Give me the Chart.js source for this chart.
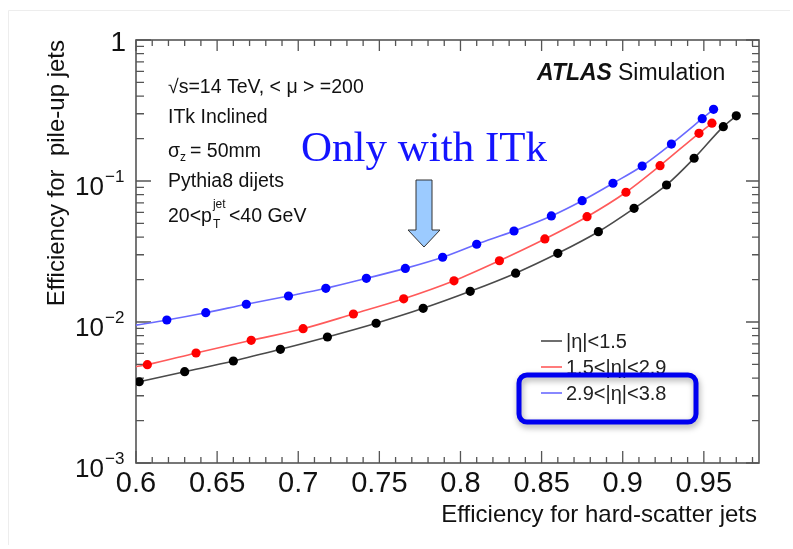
<!DOCTYPE html>
<html>
<head>
<meta charset="utf-8">
<script src="https://cdn.jsdelivr.net/npm/chart.js@4/dist/chart.umd.min.js"></script>
<style>
  html, body { margin: 0; padding: 0; background: #ffffff; }
  #wrap { width: 793px; height: 549px; position: relative; }
</style>
</head>
<body>
<div id="wrap"><canvas id="c" width="793" height="549"></canvas></div>
<script>
// ---- data ----
const blackX = [0.602, 0.630, 0.660, 0.689, 0.718, 0.748, 0.777, 0.806, 0.834, 0.860, 0.885, 0.907, 0.927, 0.944, 0.962, 0.970];
const blackY = [0.00377, 0.00444, 0.00529, 0.0064, 0.00783, 0.0098, 0.0125, 0.0165, 0.0222, 0.0307, 0.0437, 0.064, 0.0937, 0.145, 0.243, 0.290];

const redX = [0.600, 0.607, 0.637, 0.671, 0.703, 0.734, 0.765, 0.796, 0.824, 0.852, 0.878, 0.902, 0.923, 0.947, 0.955];
const redY = [0.00482, 0.00498, 0.00603, 0.00741, 0.00896, 0.0114, 0.0146, 0.0196, 0.0272, 0.0388, 0.0558, 0.0832, 0.1285, 0.218, 0.257];

const blueX = [0.600, 0.619, 0.643, 0.668, 0.694, 0.717, 0.742, 0.766, 0.789, 0.810, 0.833, 0.856, 0.875, 0.894, 0.912, 0.930, 0.949, 0.956];
const blueY = [0.0095, 0.01033, 0.01164, 0.01336, 0.01529, 0.01734, 0.0204, 0.0240, 0.0288, 0.0356, 0.0442, 0.0565, 0.0725, 0.0964, 0.1277, 0.1829, 0.2766, 0.3226];

const seriesNames = ['|η|<1.5', '1.5<|η|<2.9', '2.9<|η|<3.8'];
const xTickValues = [0.6, 0.65, 0.7, 0.75, 0.8, 0.85, 0.9, 0.95];
const xTickLabels = ['0.6', '0.65', '0.7', '0.75', '0.8', '0.85', '0.9', '0.95'];
const yTickExps = [0, -1, -2, -3];
const xRange = [0.6, 0.984];
const yRange = [0.001, 1];

// ---- build datasets ----
function pts(xs, ys) { return xs.map((x, i) => ({ x: x, y: ys[i] })); }
const lineColors = ['#4a4a4a', '#ff5a5a', '#6a6aff'];
const markColors = ['#000000', '#ff0000', '#0000ff'];

const datasets = [
  { label: seriesNames[0], data: pts(blackX, blackY), borderColor: lineColors[0], backgroundColor: markColors[0],
    pointRadius: 4.6, pointBorderWidth: 0, borderWidth: 1.6, cubicInterpolationMode: 'monotone' },
  { label: seriesNames[1], data: pts(redX, redY), borderColor: lineColors[1], backgroundColor: markColors[1],
    pointRadius: c => c.dataIndex === 0 ? 0 : 4.6, pointBorderWidth: 0, borderWidth: 1.6, cubicInterpolationMode: 'monotone' },
  { label: seriesNames[2], data: pts(blueX, blueY), borderColor: lineColors[2], backgroundColor: markColors[2],
    pointRadius: c => c.dataIndex === 0 ? 0 : 4.6, pointBorderWidth: 0, borderWidth: 1.6, cubicInterpolationMode: 'monotone' }
];

const SANS = '"Liberation Sans", Arial, Helvetica, sans-serif';
const SERIF = '"Liberation Serif", "Times New Roman", serif';

function txt(ctx, s, x, y, size, opts) {
  opts = opts || {};
  ctx.font = (opts.style || '') + ' ' + size + 'px ' + (opts.family || SANS);
  ctx.fillStyle = opts.color || '#111';
  ctx.textAlign = opts.align || 'left';
  ctx.textBaseline = opts.baseline || 'alphabetic';
  ctx.fillText(s, x, y);
  return ctx.measureText(s).width;
}

const rootPlugin = {
  id: 'rootStyle',
  beforeDatasetsDraw(chart) {
    const ctx = chart.ctx;
    const a = chart.chartArea;
    const xs = chart.scales.x, ys = chart.scales.y;
    ctx.save();
    // faint figure frame
    ctx.strokeStyle = '#ededed';
    ctx.lineWidth = 1;
    ctx.beginPath();
    ctx.moveTo(8.5, 545); ctx.lineTo(8.5, 10.5); ctx.lineTo(790, 10.5);
    ctx.stroke();

    // axes frame
    ctx.strokeStyle = '#555';
    ctx.lineWidth = 1.6;
    ctx.strokeRect(a.left, a.top, a.right - a.left, a.bottom - a.top);

    // x ticks (bottom & top)
    ctx.lineWidth = 1.3;
    ctx.beginPath();
    for (let k = 60; k <= 98; k++) {
      const v = k / 100;
      const px = xs.getPixelForValue(v);
      if (px > a.right + 0.5) continue;
      const major = (k % 5 === 0);
      const lb = major ? 12 : 6;
      const lt = major ? 11 : 6;
      ctx.moveTo(px, a.bottom); ctx.lineTo(px, a.bottom - lb);
      ctx.moveTo(px, a.top); ctx.lineTo(px, a.top + lt);
    }
    // y ticks (left & right)
    for (let d = -3; d <= 0; d++) {
      for (let m = 1; m <= 9; m++) {
        const v = m * Math.pow(10, d);
        if (v > 1.0001) continue;
        const py = ys.getPixelForValue(v);
        const major = (m === 1);
        const ll = major ? 15 : 8;
        const lr = major ? 13 : 7;
        ctx.moveTo(a.left, py); ctx.lineTo(a.left + ll, py);
        ctx.moveTo(a.right, py); ctx.lineTo(a.right - lr, py);
      }
    }
    ctx.stroke();
    ctx.restore();
  },
  afterDraw(chart) {
    const ctx = chart.ctx;
    const a = chart.chartArea;
    const xs = chart.scales.x, ys = chart.scales.y;
    ctx.save();

    // x tick labels
    xTickValues.forEach((v, i) => {
      txt(ctx, xTickLabels[i], xs.getPixelForValue(v), a.bottom + 29, 29, { align: 'center' });
    });
    // y tick labels
    yTickExps.forEach(e => {
      const py = ys.getPixelForValue(Math.pow(10, e));
      if (e === 0) {
        txt(ctx, '1', 126, py + 11, 28, { align: 'right' });
      } else {
        txt(ctx, '10', 104, py + 14, 26, { align: 'right' });
        txt(ctx, '−' + (-e), 105, py + 1, 17, { align: 'left' });
      }
    });

    // axis titles
    txt(ctx, 'Efficiency for hard-scatter jets', 757, 522, 24, { align: 'right' });
    ctx.save();
    ctx.translate(64, 40);
    ctx.rotate(-Math.PI / 2);
    txt(ctx, 'Efficiency for  pile-up jets', 0, 0, 24, { align: 'right' });
    ctx.restore();

    // ATLAS label
    const wA = txt(ctx, 'ATLAS', 537, 80, 23, { style: 'italic bold' });
    txt(ctx, 'Simulation', 537 + wA + 6, 80, 23);

    // left annotation block
    const fs = 19.5;
    txt(ctx, '√s=14 TeV, < μ > =200', 168, 93, fs);
    txt(ctx, 'ITk Inclined', 168, 123, fs);
    let w = txt(ctx, 'σ', 168, 157, fs);
    txt(ctx, 'z', 168 + w, 161, 12);
    txt(ctx, '= 50mm', 168 + w + 10, 157, fs);
    txt(ctx, 'Pythia8 dijets', 168, 187, fs);
    w = txt(ctx, '20<p', 168, 222, fs);
    txt(ctx, 'jet', 168 + w + 1, 208, 12);
    txt(ctx, 'T', 168 + w + 1, 228, 12);
    txt(ctx, '<40 GeV', 168 + w + 17, 222, fs);

    // "Only with ITk"
    ctx.save();
    ctx.font = '42px ' + SERIF;
    const ow = ctx.measureText('Only with ITk').width;
    ctx.translate(301, 161);
    ctx.scale(246 / ow, 1);
    ctx.fillStyle = '#1414ff';
    ctx.textAlign = 'left';
    ctx.textBaseline = 'alphabetic';
    ctx.fillText('Only with ITk', 0, 0);
    ctx.restore();

    // arrow
    ctx.beginPath();
    ctx.moveTo(416, 180); ctx.lineTo(432, 180); ctx.lineTo(432, 230);
    ctx.lineTo(440, 230); ctx.lineTo(424, 247); ctx.lineTo(408, 230);
    ctx.lineTo(416, 230); ctx.closePath();
    ctx.fillStyle = '#9ccbff';
    ctx.fill();
    ctx.strokeStyle = '#333';
    ctx.lineWidth = 1;
    ctx.stroke();

    // legend
    const legY = [341, 367, 393];
    legY.forEach((y, i) => {
      ctx.beginPath();
      ctx.strokeStyle = lineColors[i];
      ctx.lineWidth = 1.6;
      ctx.moveTo(541, y); ctx.lineTo(562, y);
      ctx.stroke();
      txt(ctx, seriesNames[i], 566, y + 7, 20, { color: '#222' });
    });

    // highlighted box around last legend entry
    ctx.save();
    ctx.shadowColor = 'rgba(0,0,0,0.35)';
    ctx.shadowBlur = 6;
    ctx.shadowOffsetX = 1;
    ctx.shadowOffsetY = 3;
    ctx.strokeStyle = '#0000f0';
    ctx.lineWidth = 5;
    ctx.beginPath();
    ctx.roundRect(519, 375, 177, 47, 8);
    ctx.stroke();
    ctx.restore();

    ctx.restore();
  }
};

new Chart(document.getElementById('c'), {
  type: 'line',
  data: { datasets: datasets },
  options: {
    responsive: false,
    animation: false,
    devicePixelRatio: 1,
    layout: { padding: { left: 136, top: 40, right: 34, bottom: 86 } },
    plugins: { legend: { display: false }, title: { display: false }, tooltip: { enabled: false } },
    scales: {
      x: { type: 'linear', min: xRange[0], max: xRange[1], display: false },
      y: { type: 'logarithmic', min: yRange[0], max: yRange[1], display: false }
    }
  },
  plugins: [rootPlugin]
});
</script>
</body>
</html>
